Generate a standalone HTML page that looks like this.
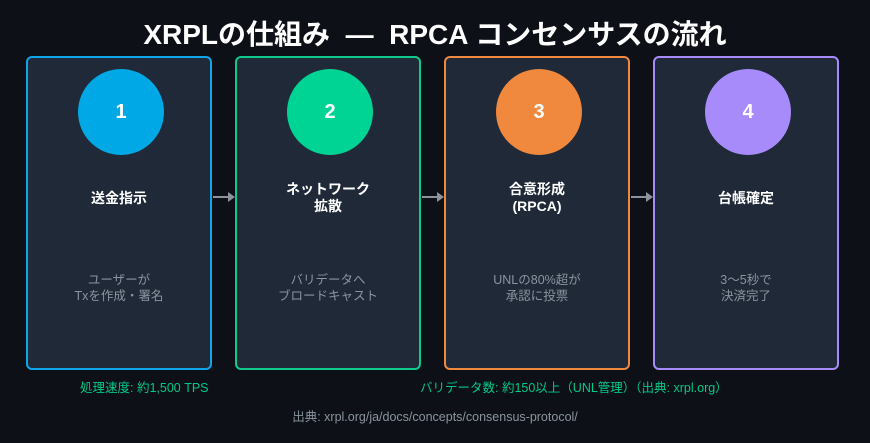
<!DOCTYPE html>
<html><head><meta charset="utf-8"><style>
body{margin:0;width:870px;height:443px;background:#0d1117;overflow:hidden;font-family:"Liberation Sans","Noto Sans CJK JP",sans-serif;position:relative}
.t{position:absolute;left:0;width:870px;text-align:center;top:13px;font-size:28px;font-weight:bold;color:#fff;white-space:pre}
.b{position:absolute;top:56px;width:182px;height:310px;background:#1f2937;border:2px solid;border-radius:6px}
.c{position:absolute;left:50px;top:11px;width:86px;height:86px;border-radius:50%;color:#fff;font-weight:bold;font-size:20px;line-height:86px;text-align:center}
.l{position:absolute;left:0;width:182px;top:123px;text-align:center;color:#fff;font-weight:bold;font-size:14px;line-height:17px}
.d{position:absolute;left:0;width:182px;top:214px;text-align:center;color:#8b949e;font-size:12.5px;line-height:16px}
.a{position:absolute;top:196px;height:2px;width:16px;background:#8b949e}
.a:after{content:"";position:absolute;right:-6px;top:-4px;border-left:7px solid #8b949e;border-top:5px solid transparent;border-bottom:5px solid transparent}
.n{position:absolute;top:377px;color:#00c98a;font-size:12.5px}
.s{position:absolute;top:406px;left:0;width:870px;text-align:center;color:#8b949e;font-size:12.5px}
</style></head><body>
<div class="t">XRPLの仕組み  ―  RPCA コンセンサスの流れ</div>
<div class="b" style="left:26px;border-color:#0ea5e9"><div class="c" style="background:#00a8e6">1</div><div class="l" style="top:132px">送金指示</div><div class="d">ユーザーが<br>Txを作成・署名</div></div>
<div class="b" style="left:235px;border-color:#10c98d"><div class="c" style="background:#00d494">2</div><div class="l">ネットワーク<br>拡散</div><div class="d">バリデータへ<br>ブロードキャスト</div></div>
<div class="b" style="left:444px;border-color:#f0883e"><div class="c" style="background:#f0883e">3</div><div class="l">合意形成<br>(RPCA)</div><div class="d">UNLの80%超が<br>承認に投票</div></div>
<div class="b" style="left:653px;border-color:#a78bfa"><div class="c" style="background:#a78bfa">4</div><div class="l" style="top:132px">台帳確定</div><div class="d">3〜5秒で<br>決済完了</div></div>
<div class="a" style="left:213px"></div><div class="a" style="left:422px"></div><div class="a" style="left:631px"></div>
<div class="n" style="left:80px">処理速度: 約1,500 TPS</div>
<div class="n" style="left:420px">バリデータ数: 約150以上（UNL管理）（出典: xrpl.org）</div>
<div class="s">出典: xrpl.org/ja/docs/concepts/consensus-protocol/</div>
</body></html>
